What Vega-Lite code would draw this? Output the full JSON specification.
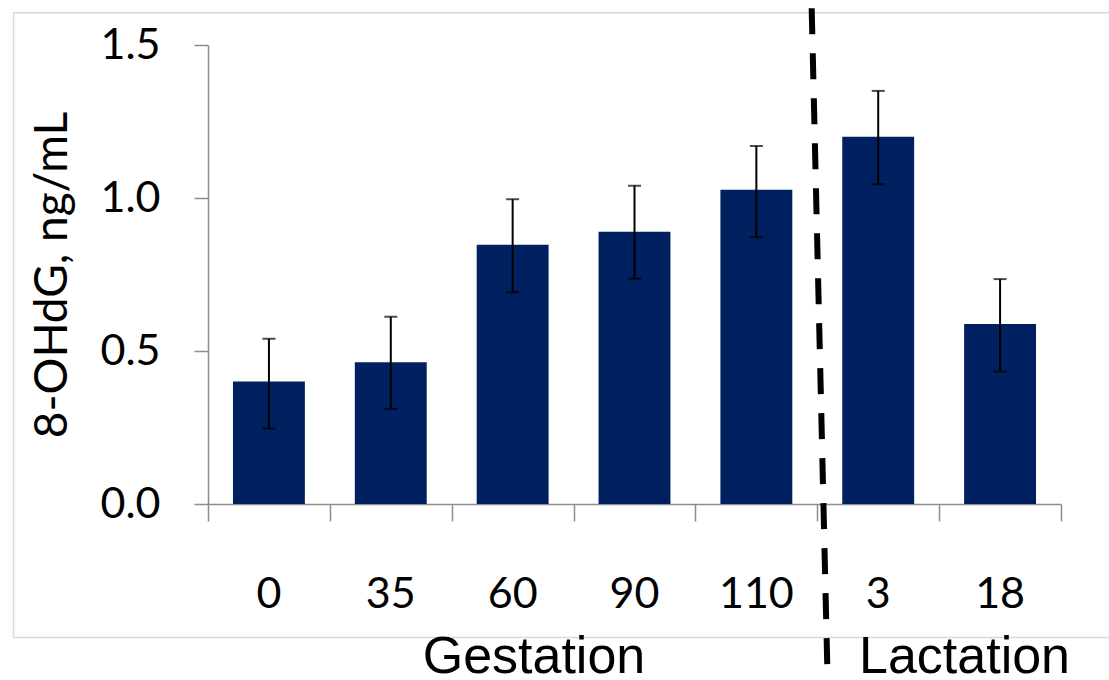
{
  "$schema": "https://vega.github.io/schema/vega-lite/v6.json",
  "width": 853,
  "height": 459,
  "autosize": {"type": "none"},
  "padding": {"left": 208, "top": 45, "right": 48, "bottom": 176},
  "background": "white",
  "config": {"view": {"stroke": null}, "axis": {"grid": false}},
  "resolve": {"scale": {"x": "independent"}, "axis": {"x": "independent"}},
  "layer": [
    {
      "data": {"values": [{"item": "frame"}]},
      "mark": {"type": "rect", "fill": null, "stroke": "#d9d9d9", "strokeWidth": 1.5, "clip": false},
      "encoding": {
        "x": {"datum": -1.596, "type": "quantitative",
              "scale": {"domain": [0, 7], "nice": false, "zero": false},
              "axis": {"orient": "bottom", "values": [0, 1, 2, 3, 4, 5, 6, 7], "labels": false, "title": null,
                       "tickSize": 17, "tickWidth": 1.5, "tickColor": "#8c8c8c",
                       "domainColor": "#8c8c8c", "domainWidth": 1.5}},
        "x2": {"datum": 7.6},
        "y": {"datum": 1.6056, "type": "quantitative", "scale": {"domain": [0, 1.5], "nice": false, "zero": false}},
        "y2": {"datum": -0.4363}
      }
    },
    {
      "data": {"values": [
        {"day": "0", "phase": "Gestation", "mean": 0.400, "lo": 0.247, "hi": 0.540},
        {"day": "35", "phase": "Gestation", "mean": 0.463, "lo": 0.311, "hi": 0.612},
        {"day": "60", "phase": "Gestation", "mean": 0.847, "lo": 0.692, "hi": 0.996},
        {"day": "90", "phase": "Gestation", "mean": 0.890, "lo": 0.736, "hi": 1.040},
        {"day": "110", "phase": "Gestation", "mean": 1.027, "lo": 0.872, "hi": 1.170},
        {"day": "3", "phase": "Lactation", "mean": 1.200, "lo": 1.045, "hi": 1.350},
        {"day": "18", "phase": "Lactation", "mean": 0.588, "lo": 0.433, "hi": 0.735}
      ]},
      "encoding": {
        "x": {"field": "day", "type": "nominal", "sort": null,
              "scale": {"paddingInner": 0.41, "paddingOuter": 0.205},
              "axis": {"orient": "bottom", "title": null, "labelAngle": 0, "ticks": false, "tickSize": 0, "domain": false,
                       "labelFont": "Lato", "labelFontSize": 43, "labelColor": "black", "labelPadding": 69}}
      },
      "layer": [
        {
          "mark": {"type": "bar", "color": "#002060"},
          "encoding": {
            "y": {"field": "mean", "type": "quantitative",
                  "scale": {"domain": [0, 1.5], "nice": false, "zero": false},
                  "axis": {"values": [0, 0.5, 1, 1.5], "format": ".1f", "title": "8-OHdG, ng/mL",
                           "titleFont": "Lato", "titleFontSize": 46, "titleFontWeight": "normal", "titleColor": "black",
                           "titlePadding": 23,
                           "labelFont": "Lato", "labelFontSize": 43, "labelColor": "black", "labelPadding": 34,
                           "tickSize": 14, "tickWidth": 1.5, "tickColor": "#8c8c8c",
                           "domainColor": "#8c8c8c", "domainWidth": 1.5}}
          }
        },
        {
          "mark": {"type": "rule", "color": "black", "strokeWidth": 2},
          "encoding": {
            "y": {"field": "lo", "type": "quantitative"},
            "y2": {"field": "hi"}
          }
        },
        {
          "mark": {"type": "tick", "color": "black", "size": 13, "thickness": 2},
          "encoding": {"y": {"field": "lo", "type": "quantitative"}}
        },
        {
          "mark": {"type": "tick", "color": "black", "size": 13, "thickness": 2},
          "encoding": {"y": {"field": "hi", "type": "quantitative"}}
        }
      ]
    },
    {
      "data": {"values": [{"item": "divider"}]},
      "mark": {"type": "rule", "color": "black", "strokeWidth": 6, "strokeDash": [26, 19], "clip": false},
      "encoding": {
        "x": {"datum": 4.954, "type": "quantitative", "scale": {"domain": [0, 7], "nice": false, "zero": false}, "axis": null},
        "x2": {"datum": 5.082},
        "y": {"datum": 1.620, "type": "quantitative"},
        "y2": {"datum": -0.529}
      }
    },
    {
      "data": {"values": [{"label": "Gestation"}]},
      "mark": {"type": "text", "font": "Liberation Sans", "fontSize": 52, "color": "black", "baseline": "alphabetic", "align": "center", "clip": false},
      "encoding": {
        "x": {"datum": 2.675, "type": "quantitative", "scale": {"domain": [0, 7], "nice": false, "zero": false}, "axis": null},
        "y": {"datum": -0.552, "type": "quantitative"},
        "text": {"field": "label"}
      }
    },
    {
      "data": {"values": [{"label": "Lactation"}]},
      "mark": {"type": "text", "font": "Liberation Sans", "fontSize": 52, "color": "black", "baseline": "alphabetic", "align": "center", "clip": false},
      "encoding": {
        "x": {"datum": 6.208, "type": "quantitative", "scale": {"domain": [0, 7], "nice": false, "zero": false}, "axis": null},
        "y": {"datum": -0.552, "type": "quantitative"},
        "text": {"field": "label"}
      }
    }
  ]
}
